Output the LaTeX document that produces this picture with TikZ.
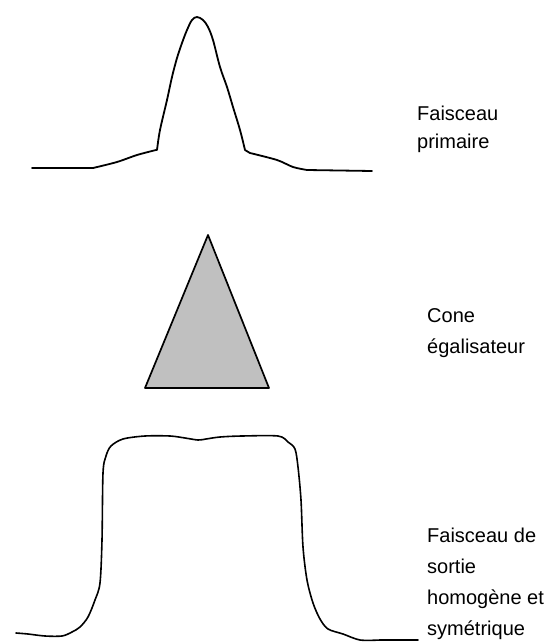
\documentclass[tikz,border=0pt]{standalone}
\usepackage{fontspec}
\setmainfont{Liberation Sans}
\definecolor{conegray}{RGB}{192,192,192}
\begin{document}
\begin{tikzpicture}[x=1pt,y=-1pt,
  curve/.style={line width=1.8pt,line join=round,line cap=round},
  txtlabel/.style={anchor=base west,align=left,inner sep=0pt,font=\fontsize{20}{31}\selectfont}]
\useasboundingbox (0,0) rectangle (556,643);
% primary beam
\draw[curve] (32,168) -- (93,168)
  plot[smooth,tension=0.5] coordinates {(93,168) (117,162) (137,155) (156,150)}
  -- (157,150)
  plot[smooth,tension=0.55] coordinates {(157,150) (160,130) (167,100) (172,77) (177,58) (182,43) (187,30) (192,20) (197,17) (203,20) (208,27) (213,40) (220,67) (227,87) (233,107) (240,130) (245,150)}
  -- (250,153)
  plot[smooth,tension=0.5] coordinates {(250,153) (277,160) (293,167) (307,170)}
  -- (372,171);
% equalising cone
\draw[line width=1.7pt,line join=round,fill=conegray] (208,235) -- (269,388) -- (145,388) -- cycle;
% output beam
\draw[line width=1.6pt,line join=round,line cap=round]
  plot[smooth,tension=0.5] coordinates {(16,633) (28,634) (45,636) (62,636) (72,632) (80,627) (88,617) (95,600) (100,583) (102,540) (103,473) (106,456) (111,446) (123,439) (145,436) (170,436) (185,438) (198,440) (206,439) (220,437) (242,436) (278,436) (288,442) (295,449) (298,467) (301,500) (303,547) (307,580) (313,603) (320,619) (328,629) (343,634) (360,640) (380,640)}
  -- (418,640);
% labels (anchor is the baseline of the last line)
\node[txtlabel,font=\fontsize{20}{28}\selectfont] (primaire) at (417,148) {Faisceau\\primaire};
\node[txtlabel] (cone) at (427,353) {Cone\\égalisateur};
\node[txtlabel] (sortie) at (427,635) {Faisceau de\\sortie\\homogène et\\symétrique};
\end{tikzpicture}
\end{document}
